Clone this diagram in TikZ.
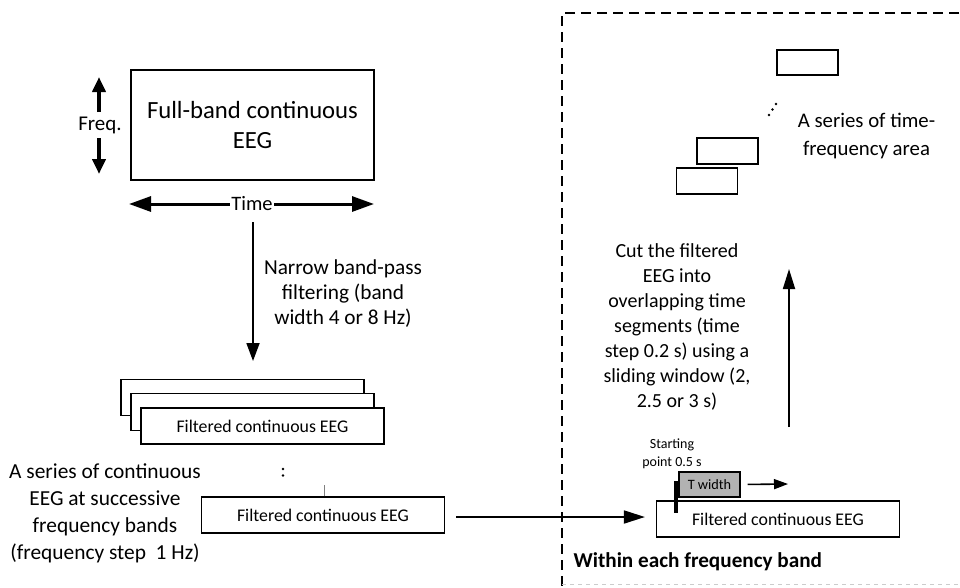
\documentclass[tikz,border=0pt]{standalone}
\usepackage{fontspec}
\setmainfont{Carlito}
\usepackage{tikz}
\usetikzlibrary{arrows.meta}

\begin{document}
\begin{tikzpicture}[x=1pt, y=-1pt, line width=1.2pt,
    box/.style = {draw, fill=white, minimum width=243pt, minimum height=36pt, inner sep=0pt, font=\fontsize{17.8}{20}\selectfont},
    tf/.style = {draw, minimum width=61pt, minimum height=26pt, inner sep=0pt},
    txt/.style = {align=center, inner sep=0pt},
    arr/.style = {-{Triangle[length=18pt, width=13pt]}, line width=1.8pt}]
\useasboundingbox (0,0) rectangle (960,587);

% region of one frequency band
\draw[dashed, dash pattern=on 10pt off 6pt, line width=1.1pt] (975,13) -- (562,13) -- (562,587);
\draw[dashed, dash pattern=on 4pt off 4pt, line width=0.8pt, gray!40] (562,584) -- (975,584);

    \node[draw, line width=2pt, minimum width=243pt, minimum height=110pt, txt, font=\fontsize{24.7}{30}\selectfont] (full) at (252.5,125) {Full-band continuous\\EEG};
    \node[txt, font=\fontsize{21}{24}\selectfont] (freq) at (100,125) {Freq.};
    \coordinate (fup) at (99,77);
    \coordinate (fdown) at (99,174);
    \node[txt, fill=white, inner sep=1pt, font=\fontsize{20.5}{24}\selectfont] (time) at (252,204) {Time};
    \coordinate (tleft) at (129,204);
    \coordinate (tright) at (374,204);

\draw[-{Triangle[length=15pt, width=13pt]}, line width=4pt] (99,112) -- (fup);
\draw[-{Triangle[length=15pt, width=13pt]}, line width=4pt] (99,138) -- (fdown);
\draw[-{Triangle[length=22pt, width=15pt]}, line width=3pt] (time.west) -- (tleft);
\draw[-{Triangle[length=22pt, width=15pt]}, line width=3pt] (time.east) -- (tright);

    \coordinate (bp1) at (253,222);
    \coordinate (bp2) at (253,361);
    \node[txt, font=\fontsize{21.3}{25}\selectfont] (narrow) at (343,294) {Narrow band-pass\\filtering (band\\width 4 or 8 Hz)};
\draw[arr] (bp1) -- (bp2);

    \node[box] (f1) at (242.5,397.5) {};
    \node[box, minimum height=37pt] (f2) at (252.5,412) {};
    \node[box] (f3) at (262.5,426) {Filtered continuous EEG};
    \fill (283,469) circle (1.4pt) (283,475.5) circle (1.4pt);
    \node[box] (fn) at (323,515) {Filtered continuous EEG};
\draw[gray, line width=0.4pt] (fn.north) ++(1,0) -- ++(0,-11);
    \node[txt, font=\fontsize{21.4}{27}\selectfont] (series) at (105,513) {A series of continuous\\EEG at successive\\frequency bands\\(frequency step~ 1 Hz)};

    \node[box] (seg) at (778,519) {Filtered continuous EEG};
\draw[-{Triangle[length=21pt, width=13pt]}, line width=1.8pt, shorten <=11pt, shorten >=11pt] (fn.east) ++(0,2) -- (seg.west |- 0,517);

    \node[draw, fill=gray!60, minimum width=61pt, minimum height=25pt, inner sep=0pt, font=\fontsize{14.3}{16}\selectfont] (tw) at (709.5,484.5) {T width};
\draw[line width=4pt] (676,481) -- (676,513);
    \coordinate (sl) at (788,484);
\draw[-{Triangle[length=14pt, width=10pt]}, line width=1.6pt, shorten <=7pt] (tw.east) -- (sl);
    \node[txt, font=\fontsize{14}{18}\selectfont] (start) at (672,454) {Starting\\point 0.5 s};
    \node[anchor=west, inner sep=0pt, font=\fontsize{21.2}{24}\selectfont\bfseries] (within) at (573,562) {Within each frequency band};

    \coordinate (cut1) at (789,427);
    \coordinate (cut2) at (789,269);
\draw[-{Triangle[length=20pt, width=12pt]}, line width=1.8pt] (cut1) -- (cut2);
    \node[txt, font=\fontsize{20}{25}\selectfont] (cut) at (677,327) {Cut the filtered\\EEG into\\overlapping time\\segments (time\\step 0.2 s) using a\\sliding window (2,\\2.5 or 3 s)};

    \node[tf] (a1) at (707,181) {};
    \node[tf] (a2) at (727.5,151) {};
    \node[tf, minimum height=25pt] (an) at (807.5,62.5) {};
    \fill (769,115) circle (1.3pt) (772.5,109.5) circle (1.3pt) (776,104) circle (1.3pt);
    \node[txt, font=\fontsize{20.8}{28}\selectfont] (area) at (866.5,136) {A series of time-\\frequency area};

\end{tikzpicture}
\end{document}
